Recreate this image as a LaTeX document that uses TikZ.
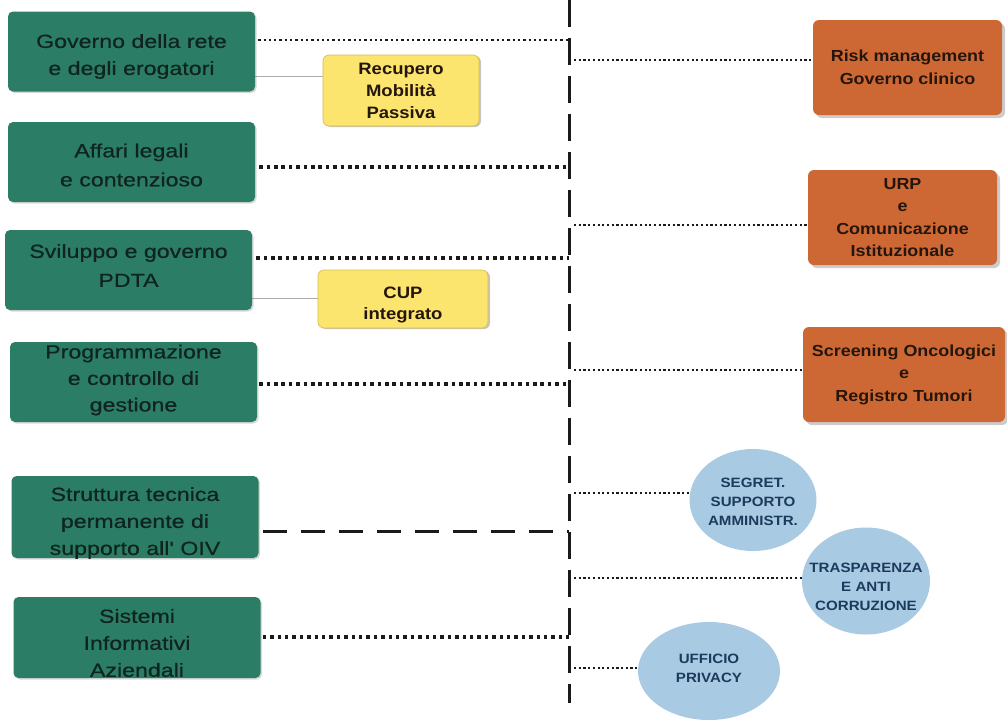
\documentclass[tikz,border=0pt]{standalone}
\usepackage{fontspec}
\setmainfont{Liberation Sans}
\newfontfamily\gfont[FakeStretch=1.22,FakeBold=0.6]{Liberation Sans}
\newfontfamily\bfont[FakeStretch=1.12]{Liberation Sans}
\usetikzlibrary{shapes.geometric,shadows,backgrounds}
\definecolor{gfill}{HTML}{2B7E65}
\definecolor{gtext}{HTML}{10241F}
\definecolor{ofill}{HTML}{CD6834}
\definecolor{otext}{HTML}{24160D}
\definecolor{yfill}{HTML}{FCE56E}
\definecolor{yedge}{HTML}{D9B84A}
\definecolor{bfill}{HTML}{A9CAE3}
\definecolor{btext}{HTML}{1D3A5C}
\definecolor{ink}{HTML}{1A1A1A}
\begin{document}
\begin{tikzpicture}[x=1pt,y=-1pt,
  gbox/.style={rectangle, rounded corners=5pt, fill=gfill, minimum width=247pt, minimum height=80pt, inner sep=0pt, drop shadow={shadow xshift=1.5pt, shadow yshift=-1.5pt, opacity=0.3}},
  gtxt/.style={align=center, text=gtext, inner sep=0pt, font=\gfont\fontsize{19}{27}\selectfont},
  ybox/.style={rectangle, rounded corners=6pt, fill=yfill, draw=yedge, line width=0.6pt, inner sep=0pt, align=center, text=otext, font=\bfont\bfseries\fontsize{16.5}{22}\selectfont, drop shadow={shadow xshift=2pt, shadow yshift=-1pt, opacity=0.45}},
  ytxt/.style={align=center, text=otext, inner sep=0pt, font=\bfont\bfseries\fontsize{16.5}{21}\selectfont},
  obox/.style={rectangle, rounded corners=6pt, fill=ofill, minimum width=189pt, minimum height=95pt, inner sep=0pt, align=center, text=otext, font=\bfont\bfseries\fontsize{16}{22.5}\selectfont, drop shadow={shadow xshift=3pt, shadow yshift=-3pt, opacity=0.4}},
  bell/.style={ellipse, fill=bfill, inner sep=0pt},
  btxt/.style={align=center, text=btext, inner sep=0pt, font=\bfont\bfseries\fontsize{13.5}{19}\selectfont},
  heavydot/.style={draw=ink, line width=3.5pt, dash pattern=on 3.5pt off 3.9pt},
  finedot/.style={draw=ink, line width=2.3pt, dash pattern=on 2.3pt off 3pt},
  lightdot/.style={draw=ink, line width=1.5pt, dash pattern=on 2.2pt off 2.5pt},
  heavydash/.style={draw=ink, line width=3pt, dash pattern=on 24pt off 14pt},
  spinestyle/.style={draw=ink, line width=3pt, dash pattern=on 27pt off 11pt},
  thinlink/.style={draw=gray!65, line width=0.8pt}
]
\useasboundingbox (0,0) rectangle (1007,724);

% left green boxes
\node[gbox] (g1) at (131.5,51.5) {};
\node[gtxt] (g1t) at (131.5,56.5) {Governo della rete\\e degli erogatori};
\node[gbox] (g2) at (131.5,162) {};
\node[gtxt, font=\gfont\fontsize{19}{29}\selectfont] (g2t) at (131.5,165) {Affari legali\\e contenzioso};
\node[gbox] (g3) at (128.5,270) {};
\node[gtxt, font=\gfont\fontsize{19}{29}\selectfont] (g3t) at (128.5,265.5) {Sviluppo e governo\\PDTA};
\node[gbox] (g4) at (133.5,382) {};
\node[gtxt, font=\gfont\fontsize{19}{26.5}\selectfont] (g4t) at (133.5,380) {Programmazione\\e controllo di\\gestione};
\node[gbox, minimum height=82pt] (g5) at (135,517) {};
\node[gtxt] (g5t) at (135,523) {Struttura tecnica\\permanente di\\supporto all' OIV};
\node[gbox, minimum height=81pt] (g6) at (137,637.5) {};
\node[gtxt] (g6t) at (137,643) {Sistemi\\Informativi\\Aziendali};

% yellow boxes
\node[ybox, minimum width=156pt, minimum height=71pt] (rec) at (401,90.5) {Recupero\\Mobilità\\Passiva};
\node[ybox, minimum width=170pt, minimum height=58pt] (cup) at (403,299) {};
\node[ytxt] (cupt) at (403,305) {CUP\\integrato};

% orange boxes
\node[obox] (risk) at (907.5,67.5) {Risk management\\Governo clinico};
\node[obox] (urp) at (902.5,217.5) {URP\\e\\Comunicazione\\Istituzionale};
\node[obox, minimum width=202pt] (scr) at (904,374.5) {Screening Oncologici\\e\\Registro Tumori};

% blue ellipses
\node[bell, minimum width=127pt, minimum height=102pt] (seg) at (753,500) {};
\node[btxt] (segtxt) at (753,502) {SEGRET.\\SUPPORTO\\AMMINISTR.};
\node[bell, minimum width=128pt, minimum height=107pt] (tra) at (866,581) {};
\node[btxt] (tratxt) at (866,587) {TRASPARENZA\\E ANTI\\CORRUZIONE};
\node[bell, minimum width=142pt, minimum height=98pt] (uff) at (709,671) {};
\node[btxt] (ufftxt) at (709,668) {UFFICIO\\PRIVACY};

% spine and junctions
\coordinate (sptop) at (569,0);
\coordinate (spbot) at (569,703);
\coordinate (j1) at (569,40);
\coordinate (j2) at (569,167);
\coordinate (j3) at (569,258);
\coordinate (j4) at (569,384);
\coordinate (j5) at (569,531);
\coordinate (j6) at (569,637);
\coordinate (k1) at (574,60);
\coordinate (k2) at (574,225);
\coordinate (k3) at (574,370);
\coordinate (k4) at (574,493);
\coordinate (k5) at (574,578);
\coordinate (k6) at (574,668);

\begin{scope}[on background layer]
\draw[spinestyle] (sptop) -- (spbot);
\draw[finedot] ([xshift=3pt]g1.east |- j1) -- (j1);
\draw[heavydot] ([xshift=4pt]g2.east |- j2) -- (j2);
\draw[heavydot] ([xshift=4pt]g3.east |- j3) -- (j3);
\draw[heavydot] ([xshift=2pt]g4.east |- j4) -- (j4);
\draw[heavydash] ([xshift=4pt]g5.east |- j5) -- (j5);
\draw[heavydot] ([xshift=2pt]g6.east |- j6) -- (j6);
\draw[thinlink] (g1.east |- 0,76) -- (rec.west |- 0,76);
\draw[thinlink] (g3.east |- 0,298) -- (cup.west |- 0,298);
\draw[lightdot] (k1) -- (risk.west |- k1);
\draw[lightdot] (k2) -- (urp.west |- k2);
\draw[lightdot] (k3) -- (scr.west |- k3);
\draw[lightdot] (k4) -- (seg.center |- k4);
\draw[lightdot] (k5) -- (tra.center |- k5);
\draw[lightdot] (k6) -- (uff.center |- k6);
\end{scope}
\end{tikzpicture}
\end{document}
